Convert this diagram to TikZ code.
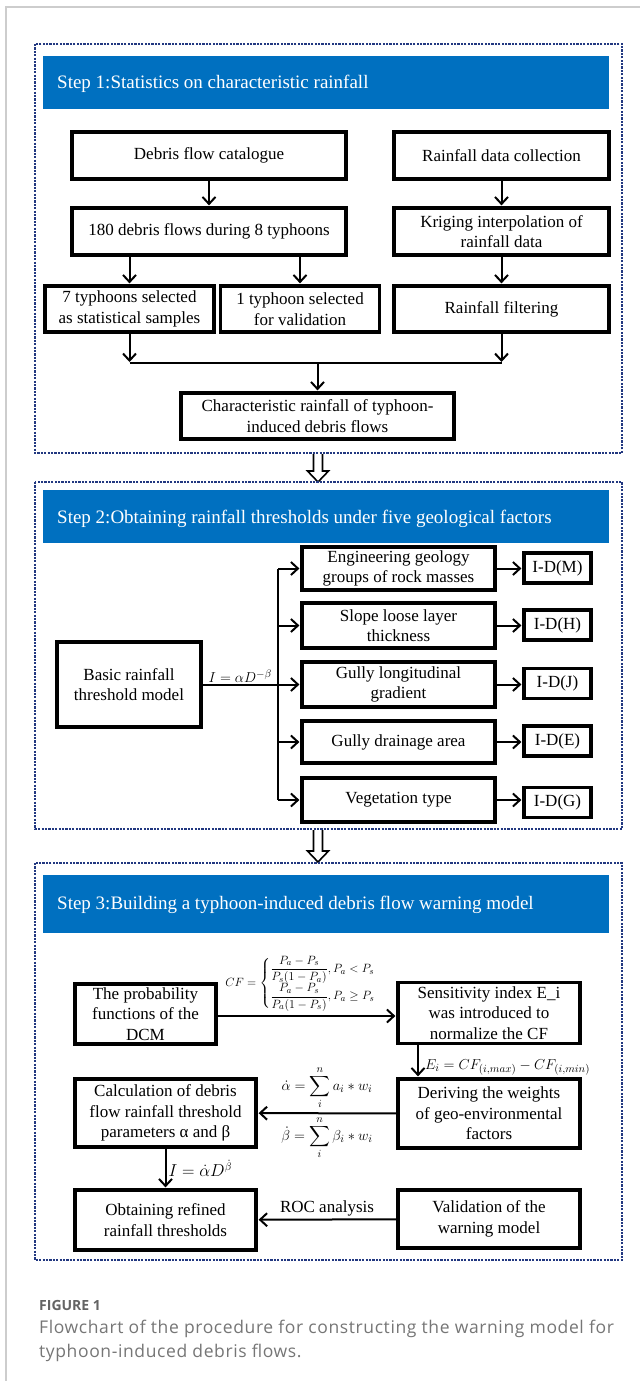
\documentclass[tikz,border=0pt]{standalone}
\usepackage{amsmath}
\usepackage{fontspec}
\setmainfont{Liberation Serif}
\newfontfamily\capfont[LetterSpace=3.5]{Open Sans}
\newfontfamily\figfont{Open Sans}
\usetikzlibrary{arrows.meta,calc}
\definecolor{hdrblue}{RGB}{0,112,192}
\definecolor{framecol}{RGB}{34,56,128}
\definecolor{capgray}{RGB}{118,118,118}
\definecolor{figgray}{RGB}{100,100,100}
\definecolor{cardgray}{RGB}{205,205,205}
\newcommand\setfs[2]{\fontsize{#1}{#2}\selectfont}
\begin{document}
\begin{tikzpicture}[x=1pt,y=-1pt,
  box/.style={draw, line width=3.2pt, align=center, font=\setfs{17}{20.5}, inner sep=1pt},
  frame/.style={draw=framecol, line width=2.8pt, dash pattern=on 2.2pt off 1.2pt},
  hdr/.style={fill=hdrblue},
  hdrtext/.style={text=white, font=\setfs{19}{22}, anchor=west, inner sep=0pt},
  line/.style={line width=2pt},
  arr/.style={line width=2pt, shorten >=1pt, -{Straight Barb[length=7pt,width=13pt,line width=2pt]}},
  lab/.style={font=\setfs{13}{15}, inner sep=1pt}]
\fill[white] (0,0) rectangle (640,1381);
\useasboundingbox (0,0) rectangle (640,1381);
\draw[cardgray, line width=1.2pt] (6,1381) -- (6,7) -- (640,7);

% ---------------- Step 1 ----------------
\draw[frame] (35,44) rectangle (622,453);
\fill[hdr] (43,56) rectangle (609,109);
\node[hdrtext] (h1) at (57,84) {Step 1:Statistics on characteristic rainfall};

\node[box, minimum width=274, minimum height=47] (cat) at (209,155.5) {Debris flow catalogue};
\node[box, minimum width=215, minimum height=47] (rdc) at (501.5,155.5) {Rainfall data collection};
\node[box, minimum width=274, minimum height=47] (n180) at (209,231.5) {180 debris flows during 8 typhoons};
\node[box, minimum width=215, minimum height=47] (krig) at (501.5,231.5) {Kriging interpolation of\\rainfall data};
\node[box, minimum width=169, minimum height=46] (seven) at (129.5,309) {7 typhoons selected\\as statistical samples};
\node[box, minimum width=159, minimum height=46] (one) at (300,309) {1 typhoon selected\\for validation};
\node[box, minimum width=215, minimum height=46] (filt) at (501.5,309) {Rainfall filtering};
\node[box, minimum width=273, minimum height=46] (char) at (317.5,416) {Characteristic rainfall of typhoon-\\induced debris flows};

\draw[arr] (cat) -- (n180);
\draw[arr] (rdc) -- (krig);
\draw[arr] (krig) -- (filt);
\draw[arr] (n180.south -| seven.north) -- (seven.north);
\draw[arr] (n180.south -| one.north) -- (one.north);
\coordinate (jl) at (130,363);
\draw[arr] (seven.south) -- (seven.south |- jl);
\draw[arr] (filt.south) -- (filt.south |- jl);
\draw[line] (seven.south |- jl) -- (filt.south |- jl);
\draw[arr] (char.north |- jl) -- (char.north);

% hollow arrow 1->2
\draw[line width=1.6pt, fill=white] (313.5,454) -- (313.5,471) -- (307.5,471) -- (318,482) -- (328.5,471) -- (322.5,471) -- (322.5,454);

% ---------------- Step 2 ----------------
\draw[frame] (35,482) rectangle (622,829);
\fill[hdr] (43,490) rectangle (609,543);
\node[hdrtext] (h2) at (57,519) {Step 2:Obtaining rainfall thresholds under five geological factors};

\node[box, minimum width=144, minimum height=85] (basic) at (129,684.5) {Basic rainfall\\threshold model};
\node[box, minimum width=193, minimum height=43] (eng) at (398.5,568.5) {Engineering geology\\groups of rock masses};
\node[box, minimum width=193, minimum height=45] (slope) at (398.5,625.5) {Slope loose layer\\thickness};
\node[box, minimum width=193, minimum height=45] (gully) at (398.5,684.5) {Gully longitudinal\\gradient};
\node[box, minimum width=193, minimum height=42] (drain) at (398.5,742) {Gully drainage area};
\node[box, minimum width=193, minimum height=44] (veg) at (398.5,800) {Vegetation type};
\node[box, minimum width=67, minimum height=30] (idm) at (557.5,568) {I-D(M)};
\node[box, minimum width=67, minimum height=30] (idh) at (557.5,625) {I-D(H)};
\node[box, minimum width=67, minimum height=30] (idj) at (557.5,683.5) {I-D(J)};
\node[box, minimum width=67, minimum height=30] (ide) at (557.5,741) {I-D(E)};
\node[box, minimum width=67, minimum height=30] (idg) at (557.5,802.5) {I-D(G)};

\coordinate (bus) at (278,684.5);
\draw[line] (basic.east |- bus) -- node[above, font=\setfs{15.5}{17}, inner sep=1pt] {$I=\alpha D^{-\beta}$} (bus);
\draw[line] (eng.west -| bus) -- (veg.west -| bus);
\foreach \n in {eng,slope,gully,drain,veg} \draw[arr] (\n.west -| bus) -- (\n.west);
\draw[arr] (eng.east) -- (idm.west |- eng.east);
\draw[arr] (slope.east) -- (idh.west |- slope.east);
\draw[arr] (gully.east) -- (idj.west |- gully.east);
\draw[arr] (drain.east) -- (ide.west |- drain.east);
\draw[arr] (veg.east) -- (idg.west |- veg.east);

% hollow arrow 2->3
\draw[line width=1.6pt, fill=white] (313.5,830) -- (313.5,851) -- (307.5,851) -- (318,862) -- (328.5,851) -- (322.5,851) -- (322.5,830);

% ---------------- Step 3 ----------------
\draw[frame] (35,863) rectangle (622,1260);
\fill[hdr] (43,875) rectangle (609,933);
\node[hdrtext] (h3) at (57,905) {Step 3:Building a typhoon-induced debris flow warning model};

\node[box, minimum width=141, minimum height=60] (prob) at (145.5,1014) {The probability\\functions of the\\DCM};
\node[box, minimum width=182, minimum height=61] (sens) at (489,1013) {Sensitivity index E\_i\\was introduced to\\normalize the CF};
\node[box, minimum width=181, minimum height=68] (calc) at (165.5,1113) {Calculation of debris\\flow rainfall threshold\\parameters α and β};
\node[box, minimum width=182, minimum height=69] (deriv) at (489,1113.5) {Deriving the weights\\of geo-environmental\\factors};
\node[box, minimum width=181, minimum height=60] (obt) at (165.5,1220) {Obtaining refined\\rainfall thresholds};
\node[box, minimum width=182, minimum height=58] (valid) at (489,1219) {Validation of the\\warning model};

\draw[arr] (prob.east |- 0,1016) -- node[above, lab, yshift=3pt] (cf)
  {$CF=\begin{cases}\dfrac{P_a-P_s}{P_s(1-P_a)},P_a<P_s\\[3pt]\dfrac{P_a-P_s}{P_a(1-P_s)},P_a\geq P_s\end{cases}$} (sens.west |- 0,1016);
\draw[arr] ([xshift=-71pt]sens.south) -- node[right, font=\setfs{15}{17}, inner sep=1pt, yshift=-6pt, xshift=5pt] (ei)
  {$E_i=CF_{(i,max)}-CF_{(i,min)}$} ([xshift=-71pt]deriv.north);
\draw[arr] (deriv) -- node[above, font=\setfs{15.5}{17}, inner sep=1pt, yshift=2pt] (aw) {$\dot\alpha=\displaystyle\sum_{i}^{n}a_i*w_i$}
  node[below, font=\setfs{15.5}{17}, inner sep=1pt, yshift=-1pt] (bw) {$\dot\beta=\displaystyle\sum_{i}^{n}\beta_i*w_i$} (calc);
\draw[arr] (calc) -- node[right, font=\setfs{16}{18}, inner sep=2pt] (ieq) {$I=\dot\alpha D^{\dot\beta}$} (obt);
\draw[arr] (valid) -- node[above, font=\setfs{17}{20}, inner sep=2pt] (roc) {ROC analysis} (obt);

% ---------------- Caption ----------------
\node[anchor=base west, inner sep=0pt, text=figgray, font=\figfont\bfseries\setfs{14}{16}] (fig) at (39,1310) {FIGURE 1};
\node[anchor=base west, inner sep=0pt, text=capgray, font=\capfont\setfs{17.5}{23.5}] (cap1) at (39,1333)
  {Flowchart of the procedure for constructing the warning model for};
\node[anchor=base west, inner sep=0pt, text=capgray, font=\capfont\setfs{17.5}{23.5}] (cap2) at (39,1357)
  {typhoon-induced debris flows.};
\end{tikzpicture}
\end{document}
